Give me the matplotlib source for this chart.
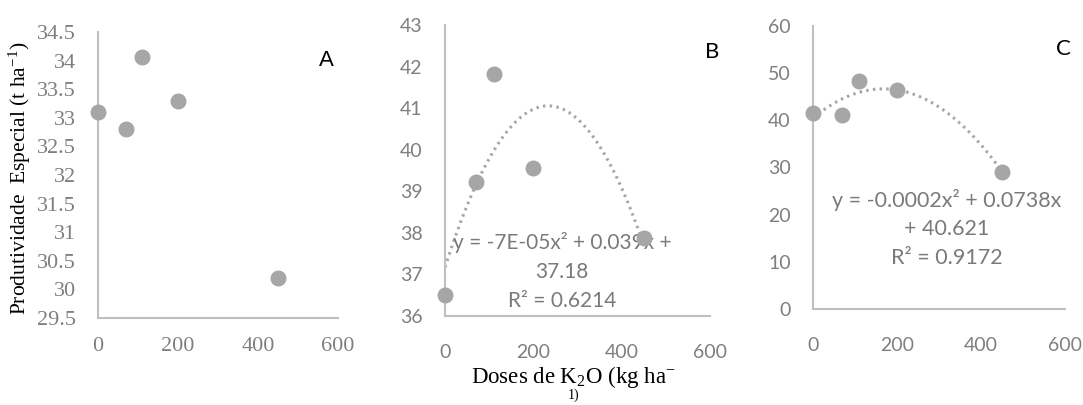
import numpy as np
import matplotlib
matplotlib.use("Agg")
import matplotlib.pyplot as plt

plt.rcParams['mathtext.fontset'] = 'custom'
plt.rcParams['mathtext.rm'] = 'Liberation Serif'
plt.rcParams['mathtext.it'] = 'Liberation Serif:italic'

# doses de K2O (kg/ha)
doses = [0, 70, 110, 200, 450]
prod_a = [33.1, 32.8, 34.06, 33.3, 30.2]
prod_b = [36.5, 39.23, 41.82, 39.55, 37.88]
prod_c = [41.5, 41.2, 48.4, 46.4, 29.1]

eq_b = ["y = -7E-05x² + 0.039x +", "37.18", "R² = 0.6214"]
eq_c = ["y = -0.0002x² + 0.0738x", "+ 40.621", "R² = 0.9172"]

W, H = 1083, 405
grey_pt = '#a6a6a6'
spine_c = '#bfbfbf'
tick_c = '#7f7f7f'

fig = plt.figure(figsize=(W/100, H/100), dpi=100)

def box(l, r, t, b):
    return [l/W, 1-b/H, (r-l)/W, (b-t)/H]

axA = fig.add_axes(box(98, 338, 32, 318))
axB = fig.add_axes(box(445, 710, 25, 316))
axC = fig.add_axes(box(813, 1065, 26, 309))

def style(ax, fam, fs, xpad):
    for s in ['top', 'right']:
        ax.spines[s].set_visible(False)
    for s in ['left', 'bottom']:
        ax.spines[s].set_color(spine_c)
        ax.spines[s].set_linewidth(1.5)
    ax.tick_params(length=0, colors=tick_c, labelsize=fs)
    ax.tick_params(axis='y', pad=16)
    ax.tick_params(axis='x', pad=xpad)
    for lab in ax.get_xticklabels() + ax.get_yticklabels():
        lab.set_family(fam)
    ax.set_xlim(0, 600)
    ax.set_xticks([0, 200, 400, 600])

# panel A
axA.scatter(doses, prod_a, s=110, color=grey_pt, zorder=3, clip_on=False)
axA.set_ylim(29.5, 34.5)
axA.set_yticks(np.arange(29.5, 34.51, 0.5))
axA.set_yticklabels(['29.5', '30', '30.5', '31', '31.5', '32', '32.5', '33', '33.5', '34', '34.5'])
style(axA, 'Liberation Serif', 16, 14)
axA.text(0.95, 0.90, 'A', transform=axA.transAxes, fontsize=16, family='Liberation Sans',
         ha='center', va='center')
axA.set_ylabel('Produtividade  Especial (t ha$^{-1}$)', family='Liberation Serif',
               fontsize=15.5, color='black')
axA.yaxis.set_label_coords(-0.27, 0.49)

# panel B
xs = np.linspace(0, 450, 200)
cb = np.polyfit(doses, prod_b, 2)
axB.plot(xs, np.polyval(cb, xs), color=grey_pt, lw=2.2, ls=(0, (0.8, 1.4)), zorder=2)
axB.scatter(doses, prod_b, s=110, color=grey_pt, zorder=3, clip_on=False)
axB.set_ylim(36, 43)
axB.set_yticks(range(36, 44))
style(axB, 'Lato', 14, 20)
axB.text(1.008, 0.907, 'B', transform=axB.transAxes, fontsize=16, family='Lato',
         ha='center', va='center')
for i, ln in enumerate(eq_b):
    axB.text(265, 37.77 - i*0.7, ln, fontsize=15, family='Lato', color='#7a7a7a',
             ha='center', va='center', zorder=2)

# x label (wrapped as in the original)
fig.text(573/W, 1-377/H, 'Doses de K$_2$O (kg ha$^{-}$', family='Liberation Serif',
         fontsize=16.5, ha='center', va='center')
fig.text(574/W, 1-395/H, '1)', family='Liberation Serif',
         fontsize=10, ha='center', va='center')

# panel C
cc = np.polyfit(doses, prod_c, 2)
axC.plot(xs, np.polyval(cc, xs), color=grey_pt, lw=2.2, ls=(0, (0.8, 1.4)), zorder=2)
axC.scatter(doses, prod_c, s=110, color=grey_pt, zorder=3, clip_on=False)
axC.set_ylim(0, 60)
axC.set_yticks(range(0, 61, 10))
style(axC, 'Lato', 14, 20)
axC.text(0.992, 0.92, 'C', transform=axC.transAxes, fontsize=16, family='Lato',
         ha='center', va='center')
for i, ln in enumerate(eq_c):
    axC.text(319, 23.1 - i*6.1, ln, fontsize=15.5, family='Lato', color='#7a7a7a',
             ha='center', va='center')

fig.savefig('out.png', dpi=100, facecolor='white')
